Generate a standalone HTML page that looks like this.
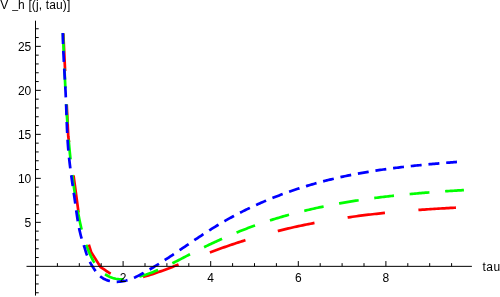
<!DOCTYPE html>
<html><head><meta charset="utf-8"><title>plot</title>
<style>html,body{margin:0;padding:0;background:#fff;}body{width:500px;height:297px;overflow:hidden;font-family:"Liberation Sans",sans-serif;}svg{display:block;will-change:transform;}text{font-family:"Liberation Sans",sans-serif;font-size:12px;fill:#000;}</style></head>
<body>
<svg width="500" height="297" viewBox="0 0 500 297">
<path d="M63.30 33.10 L68.25 136.30 L78.50 212.20 L91.20 252.10 L100.50 267.00 L102.50 268.27 L104.50 269.63 L106.50 271.02 L108.50 272.38 L110.50 273.67 L112.50 274.83 L114.50 275.86 L116.50 276.74 L118.50 277.47 L120.50 278.04 L122.50 278.47 L124.50 278.76 L126.50 278.93 L128.50 278.99 L130.50 278.94 L132.50 278.80 L134.50 278.58 L136.50 278.28 L138.50 277.92 L140.50 277.51 L142.50 277.04 L144.50 276.53 L146.50 275.98 L148.50 275.40 L150.50 274.79 L152.50 274.15 L154.50 273.49 L156.50 272.80 L158.50 272.10 L160.50 271.39 L162.50 270.66 L164.50 269.92 L166.50 269.18 L168.50 268.42 L170.50 267.65 L172.50 266.89 L174.50 266.11 L176.50 265.33 L178.50 264.55 L180.50 263.77 L182.50 262.98 L184.50 262.20 L186.50 261.41 L188.50 260.63 L190.50 259.85 L192.50 259.07 L194.50 258.29 L196.50 257.51 L198.50 256.74 L200.50 255.97 L202.50 255.20 L204.50 254.44 L206.50 253.68 L208.50 252.93 L210.50 252.19 L212.50 251.44 L214.50 250.71 L216.50 249.98 L218.50 249.25 L220.50 248.54 L222.50 247.82 L224.50 247.12 L226.50 246.42 L228.50 245.73 L230.50 245.04 L232.50 244.37 L234.50 243.70 L236.50 243.03 L238.50 242.38 L240.50 241.73 L242.50 241.09 L244.50 240.45 L246.50 239.83 L248.50 239.21 L250.50 238.60 L252.50 237.99 L254.50 237.40 L256.50 236.81 L258.50 236.23 L260.50 235.66 L262.50 235.09 L264.50 234.53 L266.50 233.98 L268.50 233.44 L270.50 232.90 L272.50 232.38 L274.50 231.86 L276.50 231.34 L278.50 230.84 L280.50 230.34 L282.50 229.85 L284.50 229.37 L286.50 228.89 L288.50 228.42 L290.50 227.96 L292.50 227.50 L294.50 227.05 L296.50 226.61 L298.50 226.18 L300.50 225.75 L302.50 225.33 L304.50 224.91 L306.50 224.50 L308.50 224.10 L310.50 223.71 L312.50 223.32 L314.50 222.94 L316.50 222.56 L318.50 222.19 L320.50 221.82 L322.50 221.47 L324.50 221.11 L326.50 220.77 L328.50 220.43 L330.50 220.09 L332.50 219.76 L334.50 219.44 L336.50 219.12 L338.50 218.80 L340.50 218.50 L342.50 218.19 L344.50 217.90 L346.50 217.61 L348.50 217.32 L350.50 217.04 L352.50 216.76 L354.50 216.49 L356.50 216.22 L358.50 215.96 L360.50 215.70 L362.50 215.44 L364.50 215.20 L366.50 214.95 L368.50 214.71 L370.50 214.47 L372.50 214.24 L374.50 214.02 L376.50 213.79 L378.50 213.57 L380.50 213.36 L382.50 213.15 L384.50 212.94 L386.50 212.74 L388.50 212.54 L390.50 212.34 L392.50 212.15 L394.50 211.96 L396.50 211.78 L398.50 211.60 L400.50 211.42 L402.50 211.24 L404.50 211.07 L406.50 210.91 L408.50 210.74 L410.50 210.58 L412.50 210.42 L414.50 210.27 L416.50 210.12 L418.50 209.97 L420.50 209.82 L422.50 209.68 L424.50 209.54 L426.50 209.40 L428.50 209.27 L430.50 209.14 L432.50 209.01 L434.50 208.89 L436.50 208.76 L438.50 208.64 L440.50 208.52 L442.50 208.41 L444.50 208.30 L446.50 208.19 L448.50 208.08 L450.50 207.97 L452.50 207.87 L454.50 207.77 L456.30 207.68" fill="none" stroke="#ff0000" stroke-width="2.70" stroke-linecap="butt" stroke-linejoin="round" stroke-dasharray="37.600 33.600" stroke-dashoffset="-0.35"/>
<path d="M62.94 33.12 L63.01 34.60 L63.08 36.08 L63.14 37.57 L63.21 39.05 L63.27 40.54 L63.34 42.02 L63.40 43.51 L63.46 45.00 L63.53 46.48 L63.59 47.97 L63.65 49.45 L63.72 50.94 L63.78 52.43 L63.84 53.91 L63.91 55.40 L63.97 56.89 L64.03 58.37 L64.10 59.86 L64.16 61.35 L64.22 62.84 L64.29 64.32 L64.35 65.81 L64.42 67.30 L64.48 68.79 L64.55 70.27 L64.61 71.76 L64.68 73.25 L64.75 74.74 L64.81 76.23 L64.88 77.71 L64.95 79.20 L65.02 80.69 L65.09 82.18 L65.16 83.67 L65.23 85.15 L65.30 86.64 L65.37 88.13 L65.45 89.62 L65.52 91.11 L65.60 92.60 L65.67 94.08 L65.75 95.57 L65.83 97.06 L65.91 98.55 L65.99 100.03 L66.07 101.52 L66.15 103.01 L66.24 104.50 L66.32 105.99 L66.41 107.47 L66.49 108.96 L66.58 110.45 L66.67 111.93 L66.77 113.42 L66.86 114.91 L66.95 116.39 L67.05 117.88 L67.15 119.37 L67.25 120.85 L67.35 122.34 L67.45 123.83 L67.56 125.31 L67.66 126.80 L67.77 128.28 L67.88 129.77 L67.99 131.25 L68.10 132.74 L68.22 134.22 L68.34 135.71 L68.46 137.19 L68.58 138.67 L68.70 140.16 L68.83 141.64 L68.95 143.13 L69.08 144.61 L69.22 146.09 L69.35 147.57 L69.49 149.06 L69.63 150.54 L69.77 152.02 L69.91 153.50 L70.06 154.98 L70.21 156.46 L70.36 157.94 L70.51 159.42 L70.67 160.90 L70.82 162.38 L70.99 163.86 L71.15 165.34 L71.32 166.82 L71.49 168.30 L71.66 169.77 L71.83 171.25 L72.01 172.73 L72.19 174.21 L72.38 175.68 L72.56 177.16 L72.75 178.63 L72.94 180.11 L73.14 181.58 L73.34 183.06 L73.54 184.53 L73.75 186.00 L73.96 187.48 L74.17 188.95 L74.38 190.42 L74.60 191.89 L74.82 193.36 L75.05 194.83 L75.28 196.30 L75.51 197.77 L75.74 199.24 L75.98 200.71 L76.22 202.18 L76.47 203.65 L76.72 205.11 L76.97 206.58 L77.23 208.05 L77.49 209.51 L77.76 210.98 L78.02 212.44 L78.30 213.90 L78.58 215.37 L78.86 216.83 L79.15 218.29 L79.44 219.75 L79.75 221.21 L80.06 222.66 L80.37 224.11 L80.70 225.57 L81.03 227.02 L81.38 228.46 L81.73 229.91 L82.10 231.35 L82.48 232.78 L82.87 234.22 L83.27 235.65 L83.68 237.08 L84.11 238.50 L84.55 239.92 L85.00 241.34 L85.47 242.75 L85.95 244.15 L86.45 245.55 L86.97 246.95 L87.50 248.34 L88.05 249.73 L88.62 251.11 L89.21 252.49 L89.81 253.86 L90.44 255.22 L91.09 256.57 L91.75 257.92 L92.45 259.25 L93.17 260.56 L93.92 261.85 L94.71 263.12 L95.52 264.37 L96.37 265.58 L97.26 266.77 L98.19 267.92 L99.15 269.04 L100.17 270.11 L101.22 271.14 L102.32 272.13 L103.48 273.07 L104.68 273.95 L105.94 274.78 L107.24 275.56 L108.60 276.27 L109.98 276.91 L111.39 277.48 L112.82 277.97 L114.25 278.38 L115.70 278.71 L117.15 278.97 L118.61 279.15 L120.08 279.27 L121.55 279.33 L123.03 279.33 L124.51 279.28 L125.99 279.18 L127.47 279.03 L128.95 278.83 L130.43 278.60 L131.91 278.34 L133.38 278.04 L134.85 277.71 L136.31 277.36 L137.76 277.00 L139.21 276.61 L140.65 276.21 L142.08 275.79 L143.51 275.35 L144.92 274.90 L146.34 274.44 L147.74 273.95 L149.14 273.46 L150.53 272.95 L151.92 272.43 L153.31 271.89 L154.68 271.35 L156.06 270.79 L157.42 270.22 L158.79 269.64 L160.15 269.05 L161.50 268.45 L162.85 267.85 L164.20 267.23 L165.55 266.60 L166.89 265.97 L168.23 265.33 L169.56 264.69 L170.90 264.04 L172.23 263.38 L173.56 262.72 L174.89 262.05 L176.22 261.38 L177.54 260.70 L178.87 260.03 L180.19 259.35 L181.51 258.66 L182.84 257.98 L184.16 257.29 L185.48 256.61 L186.81 255.92 L188.13 255.24 L189.46 254.56 L190.78 253.87 L192.11 253.19 L193.44 252.51 L194.77 251.84 L196.10 251.17 L197.44 250.50 L198.77 249.83 L200.11 249.16 L201.45 248.50 L202.79 247.84 L204.13 247.19 L205.47 246.53 L206.82 245.88 L208.16 245.23 L209.51 244.59 L210.86 243.95 L212.21 243.31 L213.56 242.68 L214.92 242.05 L216.27 241.42 L217.63 240.80 L218.99 240.18 L220.35 239.56 L221.71 238.95 L223.07 238.34 L224.43 237.74 L225.80 237.13 L227.17 236.54 L228.54 235.95 L229.91 235.36 L231.28 234.77 L232.66 234.19 L234.03 233.62 L235.41 233.04 L236.79 232.48 L238.17 231.92 L239.55 231.36 L240.93 230.80 L242.32 230.26 L243.71 229.71 L245.09 229.17 L246.48 228.64 L247.88 228.11 L249.27 227.59 L250.66 227.07 L252.06 226.55 L253.46 226.04 L254.86 225.54 L256.26 225.04 L257.66 224.54 L259.07 224.05 L260.47 223.57 L261.88 223.09 L263.29 222.61 L264.70 222.14 L266.11 221.67 L267.52 221.21 L268.93 220.75 L270.35 220.30 L271.77 219.85 L273.18 219.41 L274.60 218.97 L276.03 218.53 L277.45 218.10 L278.87 217.68 L280.30 217.25 L281.72 216.84 L283.15 216.42 L284.58 216.01 L286.01 215.61 L287.44 215.21 L288.87 214.81 L290.31 214.42 L291.74 214.03 L293.18 213.65 L294.61 213.27 L296.05 212.90 L297.49 212.52 L298.93 212.16 L300.37 211.79 L301.82 211.43 L303.26 211.08 L304.70 210.73 L306.15 210.38 L307.60 210.04 L309.04 209.70 L310.49 209.36 L311.94 209.03 L313.39 208.70 L314.84 208.37 L316.30 208.05 L317.75 207.74 L319.21 207.42 L320.66 207.11 L322.12 206.81 L323.57 206.50 L325.03 206.20 L326.49 205.91 L327.95 205.61 L329.41 205.33 L330.87 205.04 L332.33 204.76 L333.80 204.48 L335.26 204.20 L336.73 203.93 L338.19 203.66 L339.66 203.40 L341.12 203.14 L342.59 202.88 L344.06 202.62 L345.53 202.37 L347.00 202.12 L348.47 201.87 L349.94 201.63 L351.41 201.39 L352.88 201.15 L354.35 200.92 L355.82 200.69 L357.30 200.46 L358.77 200.24 L360.25 200.01 L361.72 199.79 L363.20 199.58 L364.67 199.36 L366.15 199.15 L367.62 198.95 L369.10 198.74 L370.58 198.54 L372.06 198.34 L373.54 198.14 L375.02 197.95 L376.49 197.75 L377.97 197.57 L379.45 197.38 L380.93 197.19 L382.41 197.01 L383.90 196.83 L385.38 196.66 L386.86 196.48 L388.34 196.31 L389.82 196.14 L391.30 195.97 L392.79 195.81 L394.27 195.65 L395.75 195.49 L397.23 195.33 L398.72 195.17 L400.20 195.02 L401.68 194.87 L403.17 194.72 L404.65 194.57 L406.14 194.43 L407.62 194.28 L409.10 194.14 L410.59 194.00 L412.07 193.87 L413.55 193.73 L415.04 193.60 L416.52 193.47 L418.01 193.34 L419.49 193.21 L420.97 193.08 L422.46 192.96 L423.94 192.84 L425.43 192.72 L426.91 192.60 L428.39 192.48 L429.88 192.37 L431.36 192.25 L432.84 192.14 L434.32 192.03 L435.81 191.92 L437.29 191.81 L438.77 191.71 L440.25 191.60 L441.73 191.50 L443.22 191.40 L444.70 191.30 L446.18 191.20 L447.66 191.10 L449.14 191.01 L450.62 190.91 L452.10 190.82 L453.58 190.73 L455.06 190.63 L456.53 190.54 L458.01 190.46 L459.49 190.37 L460.97 190.28 L462.44 190.20 L463.92 190.11" fill="none" stroke="#00ff00" stroke-width="2.70" stroke-linecap="butt" stroke-linejoin="round" stroke-dasharray="19.850 15.750" stroke-dashoffset="0.15"/>
<path d="M62.81 33.10 L62.83 34.61 L62.86 36.13 L62.89 37.64 L62.92 39.16 L62.96 40.67 L63.01 42.18 L63.06 43.70 L63.11 45.21 L63.16 46.72 L63.22 48.23 L63.28 49.75 L63.35 51.26 L63.41 52.77 L63.48 54.28 L63.56 55.79 L63.63 57.30 L63.71 58.81 L63.79 60.32 L63.87 61.83 L63.95 63.34 L64.03 64.85 L64.12 66.36 L64.20 67.87 L64.29 69.38 L64.38 70.89 L64.47 72.40 L64.55 73.91 L64.64 75.42 L64.73 76.93 L64.82 78.44 L64.90 79.95 L64.99 81.46 L65.08 82.97 L65.16 84.48 L65.25 85.99 L65.33 87.50 L65.41 89.01 L65.49 90.53 L65.57 92.04 L65.64 93.55 L65.71 95.06 L65.78 96.57 L65.85 98.08 L65.92 99.59 L65.98 101.11 L66.04 102.62 L66.10 104.13 L66.16 105.65 L66.21 107.16 L66.27 108.67 L66.32 110.18 L66.38 111.70 L66.43 113.21 L66.48 114.72 L66.54 116.24 L66.59 117.75 L66.64 119.26 L66.70 120.78 L66.76 122.29 L66.81 123.80 L66.87 125.32 L66.94 126.83 L67.00 128.34 L67.07 129.85 L67.14 131.36 L67.21 132.88 L67.28 134.39 L67.36 135.90 L67.45 137.41 L67.54 138.92 L67.63 140.43 L67.72 141.94 L67.82 143.45 L67.93 144.95 L68.04 146.46 L68.16 147.97 L68.28 149.48 L68.41 150.98 L68.55 152.49 L68.69 153.99 L68.84 155.50 L69.00 157.00 L69.15 158.50 L69.32 160.00 L69.49 161.51 L69.66 163.01 L69.84 164.51 L70.03 166.01 L70.21 167.51 L70.40 169.01 L70.60 170.51 L70.80 172.01 L71.00 173.51 L71.20 175.01 L71.41 176.51 L71.62 178.01 L71.83 179.50 L72.04 181.00 L72.25 182.50 L72.47 184.00 L72.69 185.50 L72.90 187.00 L73.12 188.49 L73.34 189.99 L73.56 191.49 L73.78 192.99 L73.99 194.49 L74.21 195.99 L74.43 197.49 L74.64 198.98 L74.86 200.48 L75.07 201.98 L75.28 203.48 L75.49 204.98 L75.69 206.48 L75.90 207.98 L76.11 209.48 L76.32 210.98 L76.53 212.48 L76.74 213.98 L76.96 215.48 L77.18 216.97 L77.41 218.47 L77.64 219.96 L77.88 221.45 L78.14 222.94 L78.40 224.43 L78.67 225.92 L78.95 227.40 L79.25 228.88 L79.56 230.36 L79.88 231.83 L80.23 233.30 L80.59 234.76 L80.97 236.22 L81.38 237.67 L81.81 239.11 L82.27 240.55 L82.74 241.98 L83.21 243.41 L83.68 244.84 L84.13 246.27 L84.57 247.71 L85.01 249.16 L85.45 250.60 L85.90 252.03 L86.36 253.46 L86.86 254.88 L87.38 256.29 L87.94 257.69 L88.54 259.07 L89.17 260.44 L89.84 261.80 L90.54 263.14 L91.27 264.46 L92.04 265.77 L92.84 267.07 L93.67 268.35 L94.53 269.61 L95.43 270.85 L96.35 272.07 L97.32 273.26 L98.32 274.40 L99.37 275.49 L100.48 276.49 L101.65 277.41 L102.88 278.23 L104.17 278.96 L105.50 279.59 L106.88 280.15 L108.30 280.62 L109.75 281.00 L111.22 281.31 L112.72 281.54 L114.23 281.69 L115.76 281.77 L117.29 281.78 L118.82 281.72 L120.34 281.60 L121.86 281.41 L123.35 281.17 L124.84 280.86 L126.30 280.51 L127.75 280.10 L129.19 279.64 L130.61 279.15 L132.02 278.61 L133.42 278.03 L134.81 277.43 L136.19 276.79 L137.55 276.13 L138.91 275.45 L140.26 274.74 L141.60 274.03 L142.93 273.30 L144.26 272.56 L145.58 271.82 L146.90 271.07 L148.21 270.31 L149.51 269.55 L150.81 268.78 L152.11 268.00 L153.40 267.23 L154.68 266.44 L155.97 265.65 L157.25 264.86 L158.53 264.06 L159.81 263.25 L161.08 262.45 L162.35 261.63 L163.62 260.82 L164.89 260.00 L166.16 259.17 L167.42 258.34 L168.68 257.51 L169.95 256.68 L171.21 255.84 L172.47 255.01 L173.72 254.17 L174.98 253.32 L176.24 252.48 L177.49 251.63 L178.75 250.78 L180.00 249.93 L181.26 249.08 L182.51 248.23 L183.77 247.38 L185.02 246.53 L186.28 245.68 L187.53 244.83 L188.78 243.98 L190.04 243.13 L191.30 242.28 L192.55 241.43 L193.81 240.58 L195.07 239.73 L196.33 238.89 L197.59 238.05 L198.85 237.21 L200.11 236.37 L201.38 235.53 L202.64 234.70 L203.91 233.87 L205.18 233.04 L206.45 232.22 L207.73 231.40 L209.00 230.58 L210.28 229.77 L211.56 228.96 L212.84 228.16 L214.13 227.36 L215.42 226.56 L216.71 225.77 L218.01 224.99 L219.30 224.21 L220.60 223.44 L221.91 222.67 L223.22 221.91 L224.53 221.15 L225.84 220.40 L227.16 219.66 L228.48 218.92 L229.80 218.19 L231.12 217.46 L232.45 216.74 L233.78 216.02 L235.12 215.31 L236.45 214.60 L237.79 213.90 L239.14 213.21 L240.48 212.52 L241.83 211.83 L243.18 211.15 L244.54 210.48 L245.89 209.81 L247.25 209.15 L248.61 208.49 L249.98 207.84 L251.34 207.20 L252.71 206.56 L254.09 205.92 L255.46 205.29 L256.84 204.67 L258.22 204.05 L259.60 203.43 L260.98 202.82 L262.37 202.22 L263.76 201.62 L265.15 201.03 L266.54 200.44 L267.94 199.86 L269.34 199.28 L270.74 198.71 L272.14 198.15 L273.55 197.59 L274.95 197.03 L276.36 196.48 L277.77 195.93 L279.18 195.39 L280.60 194.86 L282.02 194.33 L283.44 193.80 L284.86 193.28 L286.28 192.77 L287.71 192.26 L289.13 191.76 L290.56 191.26 L291.99 190.76 L293.42 190.27 L294.86 189.79 L296.29 189.31 L297.73 188.84 L299.17 188.37 L300.61 187.91 L302.05 187.45 L303.50 186.99 L304.94 186.55 L306.39 186.10 L307.84 185.66 L309.29 185.23 L310.74 184.80 L312.20 184.38 L313.65 183.96 L315.11 183.55 L316.57 183.14 L318.03 182.73 L319.49 182.34 L320.95 181.94 L322.41 181.55 L323.88 181.17 L325.34 180.79 L326.81 180.42 L328.28 180.05 L329.75 179.68 L331.22 179.32 L332.69 178.97 L334.16 178.62 L335.63 178.27 L337.11 177.93 L338.58 177.60 L340.06 177.27 L341.54 176.94 L343.02 176.62 L344.50 176.30 L345.98 175.99 L347.46 175.68 L348.94 175.38 L350.42 175.08 L351.91 174.78 L353.39 174.49 L354.88 174.21 L356.36 173.93 L357.85 173.65 L359.34 173.38 L360.83 173.11 L362.32 172.84 L363.81 172.58 L365.30 172.32 L366.79 172.07 L368.28 171.82 L369.78 171.57 L371.27 171.33 L372.76 171.09 L374.26 170.86 L375.75 170.63 L377.25 170.40 L378.75 170.17 L380.24 169.95 L381.74 169.73 L383.24 169.52 L384.74 169.31 L386.24 169.10 L387.74 168.89 L389.24 168.69 L390.74 168.49 L392.24 168.30 L393.74 168.10 L395.24 167.91 L396.75 167.73 L398.25 167.54 L399.75 167.36 L401.25 167.18 L402.76 167.00 L404.26 166.83 L405.77 166.66 L407.27 166.49 L408.78 166.32 L410.28 166.16 L411.79 165.99 L413.29 165.83 L414.80 165.68 L416.30 165.52 L417.81 165.37 L419.32 165.22 L420.82 165.07 L422.33 164.92 L423.84 164.77 L425.34 164.63 L426.85 164.49 L428.36 164.35 L429.86 164.21 L431.37 164.07 L432.88 163.93 L434.38 163.80 L435.89 163.67 L437.40 163.54 L438.90 163.41 L440.41 163.28 L441.92 163.15 L443.42 163.02 L444.93 162.90 L446.43 162.77 L447.94 162.65 L449.45 162.53 L450.95 162.41 L452.46 162.29 L453.96 162.17 L455.47 162.05 L456.97 161.93" fill="none" stroke="#0000ff" stroke-width="2.70" stroke-linecap="butt" stroke-linejoin="round" stroke-dasharray="10.950 6.850" stroke-dashoffset="0.00"/>
<path d="M26.5 266.35 H471.9 M35.50 20.7 V295.6 M57.40 266.35 v-3.2 M79.30 266.35 v-3.2 M101.20 266.35 v-3.2 M123.10 266.35 v-5.3 M145.00 266.35 v-3.2 M166.90 266.35 v-3.2 M188.80 266.35 v-3.2 M210.70 266.35 v-5.3 M232.60 266.35 v-3.2 M254.50 266.35 v-3.2 M276.40 266.35 v-3.2 M298.30 266.35 v-5.3 M320.20 266.35 v-3.2 M342.10 266.35 v-3.2 M364.00 266.35 v-3.2 M385.90 266.35 v-5.3 M407.80 266.35 v-3.2 M429.70 266.35 v-3.2 M451.60 266.35 v-3.2 M35.50 292.75 h3.2 M35.50 283.95 h3.2 M35.50 275.15 h3.2 M35.50 257.55 h3.2 M35.50 248.75 h3.2 M35.50 239.95 h3.2 M35.50 231.15 h3.2 M35.50 222.35 h5.3 M35.50 213.55 h3.2 M35.50 204.75 h3.2 M35.50 195.95 h3.2 M35.50 187.15 h3.2 M35.50 178.35 h5.3 M35.50 169.55 h3.2 M35.50 160.75 h3.2 M35.50 151.95 h3.2 M35.50 143.15 h3.2 M35.50 134.35 h5.3 M35.50 125.55 h3.2 M35.50 116.75 h3.2 M35.50 107.95 h3.2 M35.50 99.15 h3.2 M35.50 90.35 h5.3 M35.50 81.55 h3.2 M35.50 72.75 h3.2 M35.50 63.95 h3.2 M35.50 55.15 h3.2 M35.50 46.35 h5.3 M35.50 37.55 h3.2 M35.50 28.75 h3.2" fill="none" stroke="#000" stroke-width="1.0"/>
<g opacity="0.999">
<text x="0.3" y="9.4">V</text>
<rect x="12.1" y="10.05" width="6.1" height="0.75" fill="#000"/>
<text x="18.1" y="9.4" letter-spacing="0.14">h [(j, tau)]</text>
<text x="31.3" y="227.0" text-anchor="end">5</text>
<text x="31.3" y="183.0" text-anchor="end">10</text>
<text x="31.3" y="139.0" text-anchor="end">15</text>
<text x="31.3" y="95.0" text-anchor="end">20</text>
<text x="31.3" y="50.9" text-anchor="end">25</text>
<text x="123.1" y="282.3" text-anchor="middle">2</text>
<text x="210.7" y="282.3" text-anchor="middle">4</text>
<text x="298.3" y="282.3" text-anchor="middle">6</text>
<text x="385.9" y="282.3" text-anchor="middle">8</text>
<text x="482.4" y="270.8" letter-spacing="0.5">tau</text>
</g>
</svg>
</body></html>
